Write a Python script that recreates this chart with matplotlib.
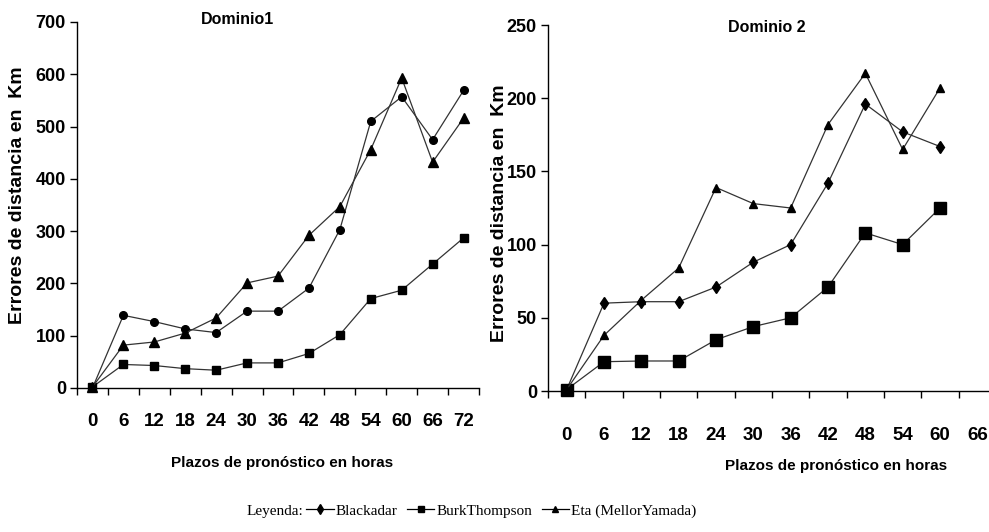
import matplotlib
matplotlib.use('Agg')
import matplotlib.pyplot as plt
from matplotlib.lines import Line2D
from matplotlib.ticker import FixedLocator

# forecast lead times (hours)
plazos_d1 = [0, 6, 12, 18, 24, 30, 36, 42, 48, 54, 60, 66, 72]
plazos_d2 = [0, 6, 12, 18, 24, 30, 36, 42, 48, 54, 60, 66]

# Dominio 1 distance errors (km)
blackadar_d1 = [0, 139, 127, 113, 106, 147, 147, 191, 303, 510, 557, 475, 569]
burk_d1 = [2, 45, 43, 37, 34, 48, 48, 66, 102, 171, 187, 237, 287]
eta_d1 = [2, 82, 88, 105, 134, 201, 214, 292, 347, 456, 593, 432, 516]

# Dominio 2 distance errors (km), no value at 66 h
blackadar_d2 = [1, 60, 61, 61, 71, 88, 100, 142, 196, 177, 167]
burk_d2 = [1, 20, 20.5, 20.5, 35, 44, 50, 71, 108, 100, 125]
eta_d2 = [1, 38, 62, 84, 139, 128, 125, 182, 217, 165, 207]

series_names = ['Blackadar', 'BurkThompson', 'Eta (MellorYamada)']

narrow = ['Liberation Sans Narrow', 'Liberation Sans', 'DejaVu Sans']
serif = ['Liberation Serif', 'DejaVu Serif']
line_col = '#333333'

fig = plt.figure(figsize=(9.89, 5.32), dpi=100)


def draw_panel(ax, plazos, series, markers, msizes, ymax, ystep, title, title_xy, lab_pad):
    n = len(plazos)
    for vals, mk, ms in zip(series, markers, msizes):
        xs = list(range(len(vals)))
        ax.plot(xs, vals, color=line_col, linewidth=0.9, marker=mk, markersize=ms,
                markerfacecolor='black', markeredgecolor='black', zorder=3, clip_on=False)
    ax.set_xlim(-0.5, n - 0.5)
    ax.set_ylim(0, ymax)
    for s in ['top', 'right']:
        ax.spines[s].set_visible(False)
    ax.spines['left'].set_linewidth(1.0)
    ax.spines['bottom'].set_linewidth(1.0)
    ax.set_xticks(range(n))
    ax.set_xticklabels([str(p) for p in plazos])
    ax.xaxis.set_minor_locator(FixedLocator([i - 0.5 for i in range(n + 1)]))
    ax.tick_params(axis='x', which='major', length=0, pad=lab_pad)
    ax.tick_params(axis='x', which='minor', length=5, width=1.0, direction='out')
    ax.set_yticks(range(0, ymax + 1, ystep))
    ax.tick_params(axis='y', length=5, width=1.0, pad=3)
    for lab in ax.get_xticklabels():
        lab.set_family(narrow)
        lab.set_fontweight('bold')
        lab.set_fontsize(13.5)
    for lab in ax.get_yticklabels():
        lab.set_family(narrow)
        lab.set_fontweight('bold')
        lab.set_fontsize(13)
    ax.set_ylabel('Errores de distancia en  Km', family=['Liberation Sans', 'DejaVu Sans'],
                  fontweight='bold', fontsize=14)
    fig.text(title_xy[0], title_xy[1], title, ha='center', va='center',
             family=narrow, fontweight='bold', fontsize=11.5)
    return ax


ax1 = fig.add_axes([77 / 989, 1 - 388 / 532, 402 / 989, 366 / 532])
draw_panel(ax1, plazos_d1, [blackadar_d1, burk_d1, eta_d1], ['o', 's', '^'], [5.5, 6, 6.5],
           700, 100, 'Dominio1', (237 / 989, 1 - 19 / 532), 18)
ax1.yaxis.set_label_coords(-51 / 402, (388 - 195) / 366)
fig.text(282 / 989, 1 - 463 / 532, 'Plazos de pronóstico en horas', ha='center', va='center',
         family=narrow, fontweight='bold', fontsize=11)

ax2 = fig.add_axes([548 / 989, 1 - 391 / 532, 448 / 989, 366 / 532])
draw_panel(ax2, plazos_d2, [blackadar_d2, burk_d2, eta_d2], ['d', 's', '^'], [6, 9, 6],
           250, 50, 'Dominio 2', (767 / 989, 1 - 28 / 532), 26)
ax2.yaxis.set_label_coords(-40 / 448, (391 - 213) / 366)
fig.text(836 / 989, 1 - 466 / 532, 'Plazos de pronóstico en horas', ha='center', va='center',
         family=narrow, fontweight='bold', fontsize=11)

# legend row at the bottom
fig.text(247 / 989, 1 - 511 / 532, 'Leyenda:', ha='left', va='center', family=serif, fontsize=11)
handles = [Line2D([], [], color='black', linewidth=0.9, marker=m, markersize=5,
                  markerfacecolor='black', markeredgecolor='black')
           for m in ['d', 's', '^']]
fig.legend(handles, series_names, loc='center left', bbox_to_anchor=(306 / 989, 1 - 511 / 532),
           ncol=3, frameon=False, handlelength=1.8, handletextpad=0.15, columnspacing=0.6,
           borderpad=0, borderaxespad=0, prop={'family': serif, 'size': 11})

plt.savefig('out.png', dpi=100)
plt.close()
